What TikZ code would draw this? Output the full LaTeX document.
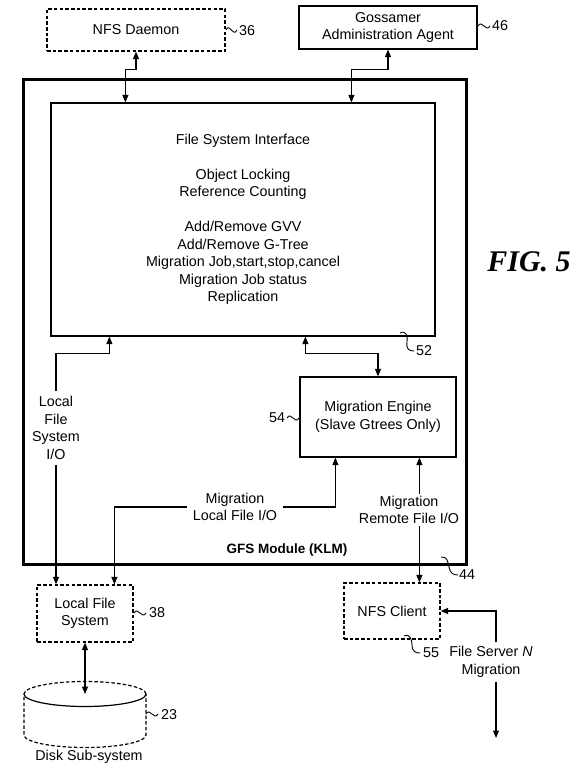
\documentclass[tikz,border=0pt]{standalone}
\usepackage{fontspec}
\setmainfont{Liberation Sans}
\newfontfamily\figfont{Liberation Serif}
\usetikzlibrary{arrows.meta,calc}
\begin{document}
\begin{tikzpicture}[x=1pt,y=-1pt,
  every node/.style={font=\fontsize{14.3}{17.5}\selectfont, align=center},
  box/.style={draw, line width=1.2pt, inner sep=0pt},
  dbox/.style={box, dash pattern=on 3.5pt off 2.2pt},
  conn/.style={line width=1.1pt, -{Triangle[length=7.5pt,width=6pt]}},
  conn2/.style={line width=1.1pt, {Triangle[length=7.5pt,width=6pt]}-{Triangle[length=7.5pt,width=6pt]}},
  plain/.style={line width=1.2pt},
  dplain/.style={line width=1.2pt, dash pattern=on 3.5pt off 2.2pt},
  lbl/.style={inner sep=5pt},
  sq/.style={line width=0.9pt},
]
\useasboundingbox (0,0) rectangle (576,770);

% boxes
\node[dbox, minimum width=178pt, minimum height=42pt] (nfsd) at (136,30) {NFS Daemon};
\node[box, minimum width=178pt, minimum height=43pt] (gaa) at (388,27.5) {Gossamer\\Administration Agent};
\node[draw, line width=3pt, minimum width=443pt, minimum height=484pt, inner sep=0pt] (gfs) at (244.5,322) {};
\node[box, minimum width=384pt, minimum height=233pt] (fsi) at (243,219.5)
  {File System Interface\\[17.5pt]Object Locking\\Reference Counting\\[17.5pt]Add/Remove GVV\\Add/Remove G-Tree\\Migration Job,start,stop,cancel\\Migration Job status\\Replication};
\node[box, minimum width=156pt, minimum height=80pt] (me) at (378,417) {Migration Engine\\(Slave Gtrees Only)};
\node[dbox, minimum width=96pt, minimum height=57pt] (lfs) at (85,613.5) {Local File\\System};
\node[dbox, minimum width=96pt, minimum height=56pt] (nfsc) at (392,611) {NFS Client};
\node[font=\bfseries\fontsize{13.5}{16}\selectfont] (gfslbl) at (287,550) {GFS Module (KLM)};
\node[font=\figfont\bfseries\itshape\fontsize{30}{34}\selectfont] (fig) at (529,262) {FIG. 5};

% connector labels
\node[lbl] (lfsio) at (56,428) {Local\\File\\System\\I/O};
\node[inner sep=6pt] (mlio) at (235,507) {Migration\\Local File I/O};
\node[inner sep=2pt] (mrio) at (409,510) {Migration\\Remote File I/O};
\node[inner sep=4pt] (fsnl) at (491,662) {File Server \textit{N}\\Migration};
\node (dlbl) at (89,757) {Disk Sub-system};

% disk
\coordinate (disktop) at (85,694);
\draw[plain] (146,694) arc[start angle=0,end angle=180,x radius=61,y radius=12.5];
\draw[dplain] (146,694) arc[start angle=0,end angle=-180,x radius=61,y radius=12.5]
  -- (24,735) arc[start angle=180,end angle=0,x radius=61,y radius=12.5] -- (146,694);

% connectors
\draw[conn2] (nfsd.south) -- ++(0,18) -| ($(fsi.north west)+(75,0)$);
\draw[conn2] (gaa.south) -- ++(0,20) -| ($(fsi.north west)+(301,0)$);
\draw[conn] (lfsio.north) |- ($(fsi.south west)+(59,17)$) -- ($(fsi.south west)+(59,0)$);
\draw[conn] (lfsio.south) -- (lfsio.south |- lfs.north);
\draw[conn2] ($(fsi.south west)+(255,0)$) -- ++(0,17) -| (me.north);
\draw[conn] (mlio.east) -| ($(me.south west)+(36,0)$);
\draw[conn] (mlio.west) -| ($(lfs.north west)+(78,0)$);
\coordinate (mrx) at ($(me.south west)+(120,0)$);
\draw[conn] (mrio.north -| mrx) -- (mrx);
\draw[conn] (mrio.south -| mrx) -- (mrx |- nfsc.north);
\coordinate (fsend) at (496,738);
\draw[conn] (fsnl.north -| fsend) |- (nfsc.east);
\draw[conn] (fsnl.south -| fsend) -- (fsend);
\draw[conn2] (lfs.south) -- (disktop);

% reference numerals
\node (n36) at (247,31) {36};
\draw[sq] (226,30) .. controls (229,22) and (233,38) .. (237,30);
\node (n46) at (500,26) {46};
\draw[sq] (478,26) .. controls (482,19) and (486,33) .. (490,26);
\node (n54) at (277,418) {54};
\draw[sq] (287,418) .. controls (291,411) and (295,425) .. (299,418);
\node (n38) at (157,613) {38};
\draw[sq] (134,613) .. controls (138,606) and (142,620) .. (146,613);
\node (n23) at (169,715) {23};
\draw[sq] (146,714) .. controls (150,707) and (154,721) .. (158,714);
\node (n52) at (424,351) {52};
\draw[sq] (400,333) .. controls (406,330) and (408,336) .. (407,342) .. controls (406,349) and (409,351) .. (414,351);
\node (n44) at (467,575) {44};
\draw[sq] (441,557) .. controls (447,556) and (448,562) .. (449,567) .. controls (450,573) and (453,575) .. (458,575);
\node (n55) at (431,653) {55};
\draw[sq] (404,636) .. controls (410,633) and (412,640) .. (412,645) .. controls (412,651) and (415,653) .. (420,653);
\end{tikzpicture}
\end{document}
